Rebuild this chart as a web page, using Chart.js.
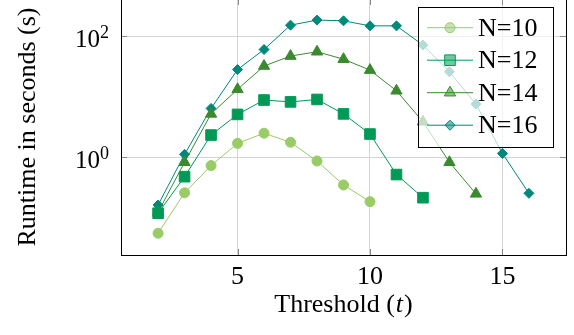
<!DOCTYPE html>
<html>
<head>
<meta charset="utf-8">
<script src="https://cdn.jsdelivr.net/npm/chart.js@4/dist/chart.umd.min.js"></script>
<style>
  html, body { margin: 0; padding: 0; background: #fff; overflow: hidden; }
  #wrap { position: relative; top: -2px; width: 574px; height: 337px; }
</style>
</head>
<body>
<div id="wrap"><canvas id="runtimeChart" width="574" height="337"></canvas></div>
<script>
// 데이터 (threshold t = 2 ... 16)
var thresholds = [2, 3, 4, 5, 6, 7, 8, 9, 10, 11, 12, 13, 14, 15, 16];
var n10 = [0.056, 0.26, 0.73, 1.7, 2.5, 1.77, 0.87, 0.35, 0.186];
var n12 = [0.12, 0.48, 2.33, 5.1, 8.8, 8.2, 9.0, 5.2, 2.42, 0.52, 0.216];
var n14 = [0.125, 0.83, 5.2, 13.2, 32, 46.7, 55, 41.5, 27.4, 12.5, 3.86, 0.83, 0.25];
var n16 = [0.164, 1.12, 6.4, 28, 60, 151, 183, 178, 147, 147, 70.8, 25.7, 7.55, 1.16, 0.255];
var seriesNames = ['N=10', 'N=12', 'N=14', 'N=16'];
var xTicks = [5, 10, 15];
var yTicks = [1, 100];
var yTickExp = ['0', '2'];

var serif = '"Liberation Serif", "Times New Roman", serif';
var colors = ['#99cc66', '#009a56', '#3b8a2f', '#00887a'];
var styles = ['circle', 'rect', 'triangle', 'rectRot'];
var radii = [5, 7.5, 6.5, 5];

function toPoints(arr) {
    return arr.map(function (v, i) { return { x: thresholds[i], y: v }; });
}

var allSeries = [n10, n12, n14, n16];
var datasets = allSeries.map(function (arr, k) {
    return {
        label: seriesNames[k],
        data: toPoints(arr),
        borderColor: colors[k],
        backgroundColor: colors[k],
        borderWidth: 1,
        pointStyle: styles[k],
        pointRadius: radii[k],
        pointBorderWidth: 1,
        pointBackgroundColor: colors[k],
        pointBorderColor: colors[k],
        tension: 0
    };
});

// 범례 마커 그리기
function marker(c, style, x, y, r) {
    c.beginPath();
    if (style === 'circle') {
        c.arc(x, y, r, 0, Math.PI * 2);
    } else if (style === 'rect') {
        var s = r * Math.SQRT1_2;
        c.rect(x - s, y - s, 2 * s, 2 * s);
    } else if (style === 'triangle') {
        c.moveTo(x, y - r);
        c.lineTo(x + r * 0.866, y + r * 0.5);
        c.lineTo(x - r * 0.866, y + r * 0.5);
        c.closePath();
    } else {
        c.moveTo(x - r, y); c.lineTo(x, y - r); c.lineTo(x + r, y); c.lineTo(x, y + r);
        c.closePath();
    }
}

var decor = {
    id: 'decor',
    beforeDatasetsDraw: function (chart) {
        var c = chart.ctx, a = chart.chartArea, xs = chart.scales.x, ys = chart.scales.y;
        c.save();
        c.strokeStyle = '#8a8a8a';
        c.lineWidth = 1;
        c.beginPath();
        xTicks.forEach(function (v) {
            var px = Math.round(xs.getPixelForValue(v)) + 0.5;
            c.moveTo(px, a.bottom); c.lineTo(px, a.bottom - 6);
            c.moveTo(px, a.top); c.lineTo(px, a.top + 6);
        });
        yTicks.forEach(function (v) {
            var py = Math.round(ys.getPixelForValue(v)) + 0.5;
            c.moveTo(a.left, py); c.lineTo(a.left + 6, py);
            c.moveTo(a.right, py); c.lineTo(a.right - 6, py);
        });
        c.stroke();
        c.strokeStyle = '#000';
        c.strokeRect(Math.round(a.left) + 0.5, Math.round(a.top) + 0.5,
            Math.round(a.right - a.left), Math.round(a.bottom - a.top));

        // 눈금 라벨
        c.fillStyle = '#000';
        c.font = '26px ' + serif;
        c.textAlign = 'center';
        c.textBaseline = 'alphabetic';
        xTicks.forEach(function (v) {
            c.fillText(String(v), xs.getPixelForValue(v), a.bottom + 29);
        });
        yTicks.forEach(function (v, i) {
            var py = ys.getPixelForValue(v);
            c.font = '25px ' + serif;
            c.textAlign = 'right';
            c.fillText('10', 100, py + 11);
            c.font = '18px ' + serif;
            c.textAlign = 'left';
            c.fillText(yTickExp[i], 100, py + 2);
        });

        // 축 제목
        c.font = '26px ' + serif;
        var t1 = 'Threshold (', t2 = 't', t3 = ')';
        var w1 = c.measureText(t1).width, w3 = c.measureText(t3).width;
        c.font = 'italic 26px ' + serif;
        var w2 = c.measureText(t2).width;
        var total = w1 + w2 + w3 + 2;
        var cx = (a.left + a.right) / 2 - total / 2;
        var by = a.bottom + 57;
        c.textAlign = 'left';
        c.font = '26px ' + serif;
        c.fillText(t1, cx, by);
        c.font = 'italic 26px ' + serif;
        c.fillText(t2, cx + w1 + 1, by);
        c.font = '26px ' + serif;
        c.fillText(t3, cx + w1 + w2 + 2, by);

        c.translate(35, (a.top + a.bottom) / 2);
        c.rotate(-Math.PI / 2);
        c.textAlign = 'center';
        c.fillText('Runtime in seconds (s)', 0, 0);
        c.restore();
    },
    afterDraw: function (chart) {
        var c = chart.ctx;
        c.save();
        var bx = 418.5, by = 9.5, bw = 135, bh = 140;
        c.fillStyle = 'rgba(255,255,255,0.7)';
        c.fillRect(bx, by, bw, bh);
        c.strokeStyle = '#000';
        c.lineWidth = 1;
        c.strokeRect(bx, by, bw, bh);
        chart.data.datasets.forEach(function (ds, k) {
            var y = 29.7 + k * 32.5;
            c.strokeStyle = colors[k];
            c.lineWidth = 1;
            c.beginPath();
            c.moveTo(427, y); c.lineTo(473, y);
            c.stroke();
            marker(c, styles[k], 450, y, radii[k]);
            c.globalAlpha = 0.55;
            c.fillStyle = colors[k];
            c.fill();
            c.globalAlpha = 1;
            c.stroke();
            c.fillStyle = '#000';
            c.font = '26px ' + serif;
            c.textAlign = 'left';
            c.textBaseline = 'middle';
            c.fillText(ds.label, 478, y + 1);
        });
        c.restore();
    }
};

var ctx = document.getElementById('runtimeChart').getContext('2d');
var runtimeChart = new Chart(ctx, {
    type: 'line',
    data: { datasets: datasets },
    options: {
        responsive: false,
        animation: false,
        layout: { autoPadding: false, padding: { top: 1, right: 8, left: 0, bottom: 0 } },
        plugins: {
            legend: { display: false },
            tooltip: { enabled: false }
        },
        scales: {
            x: {
                type: 'linear',
                min: 0.6,
                max: 17.4,
                afterBuildTicks: function (scale) {
                    scale.ticks = xTicks.map(function (v) { return { value: v }; });
                },
                afterFit: function (scale) { scale.height = 80; },
                ticks: { display: false },
                grid: { color: '#d4d4d4', lineWidth: 1, drawTicks: false },
                border: { display: false }
            },
            y: {
                type: 'logarithmic',
                min: Math.pow(10, -1.61),
                max: Math.pow(10, 2.61),
                afterBuildTicks: function (scale) {
                    scale.ticks = yTicks.map(function (v) { return { value: v }; });
                },
                afterFit: function (scale) { scale.width = 121; },
                ticks: { display: false },
                grid: { color: '#d4d4d4', lineWidth: 1, drawTicks: false },
                border: { display: false }
            }
        }
    },
    plugins: [decor]
});
</script>
</body>
</html>
